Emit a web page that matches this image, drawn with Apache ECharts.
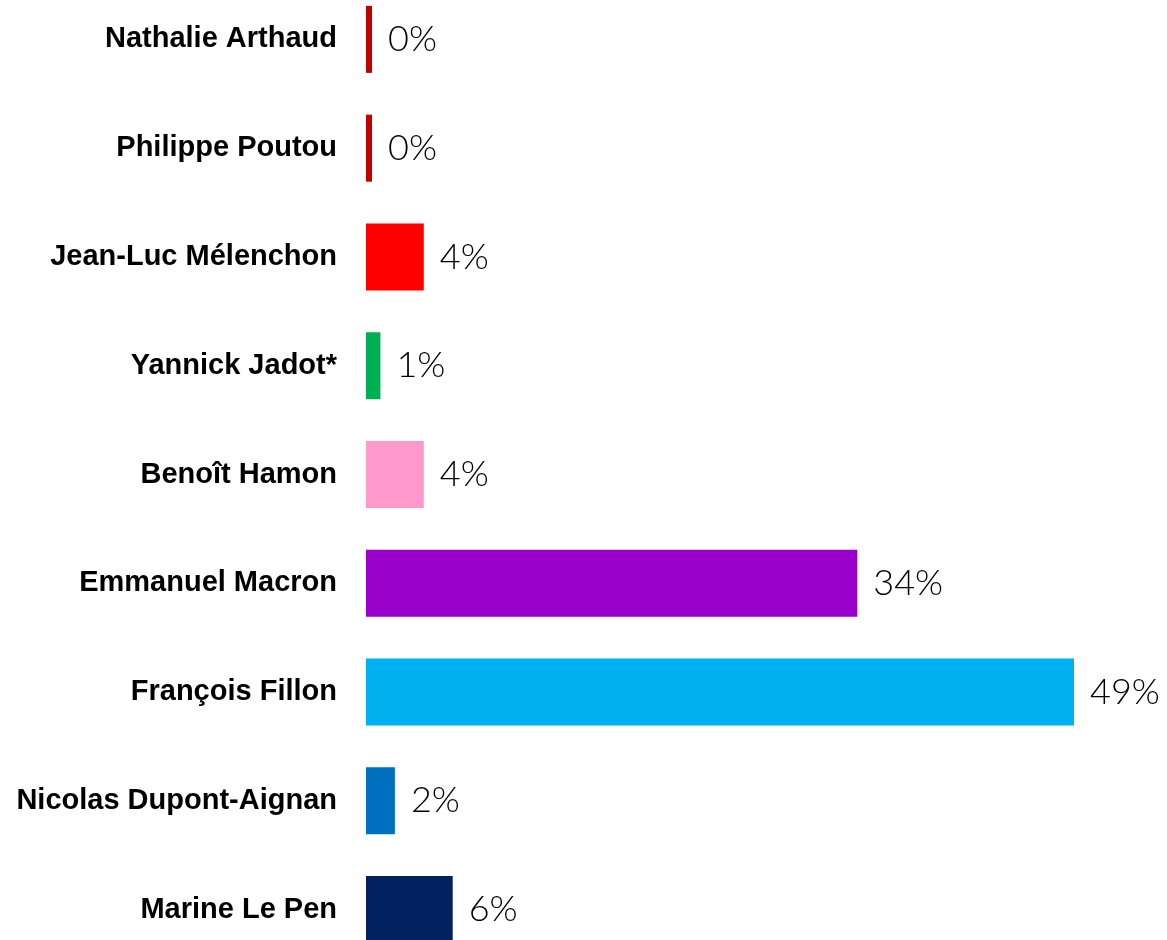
<!DOCTYPE html>
<html>
<head>
<meta charset="utf-8">
<script src="https://cdn.jsdelivr.net/npm/echarts@6/dist/echarts.min.js"></script>
<style>html,body{margin:0;padding:0;background:#fff}#c{width:1167px;height:940px}</style>
</head>
<body>
<div id="c"></div>
<script>
const candidates = ['Nathalie Arthaud','Philippe Poutou','Jean-Luc Mélenchon','Yannick Jadot*','Benoît Hamon','Emmanuel Macron','François Fillon','Nicolas Dupont-Aignan','Marine Le Pen'];
const values = [0, 0, 4, 1, 4, 34, 49, 2, 6];
const colors = ['#C00000','#C00000','#FF0000','#00B050','#FF99CC','#9900CC','#00B0F0','#0070C0','#002060'];

const chart = echarts.init(document.getElementById('c'));
chart.setOption({
  animation: false,
  grid: { left: 366, right: 93, top: -15, height: 979, containLabel: false, outerBoundsMode: 'none' },
  xAxis: { type: 'value', min: 0, max: 'dataMax', show: false },
  yAxis: {
    type: 'category', data: candidates, inverse: true,
    axisLine: { show: false }, axisTick: { show: false }, splitLine: { show: false },
    axisLabel: {
      margin: 29, color: '#000', fontFamily: 'Liberation Sans, Arial, sans-serif',
      fontWeight: 'bold', fontSize: 29, padding: [0, 0, 9, 0]
    }
  },
  series: [{
    type: 'bar',
    barWidth: 67,
    barMinHeight: 6,
    data: values.map((v, i) => ({ value: v, itemStyle: { color: colors[i] } })),
    label: {
      show: true, position: 'right', distance: 16,
      formatter: p => p.value + '%',
      color: '#000', fontFamily: 'Lato, sans-serif', fontWeight: 300, fontSize: 36,
      padding: [9, 0, 0, 0]
    }
  }]
});
</script>
</body>
</html>
